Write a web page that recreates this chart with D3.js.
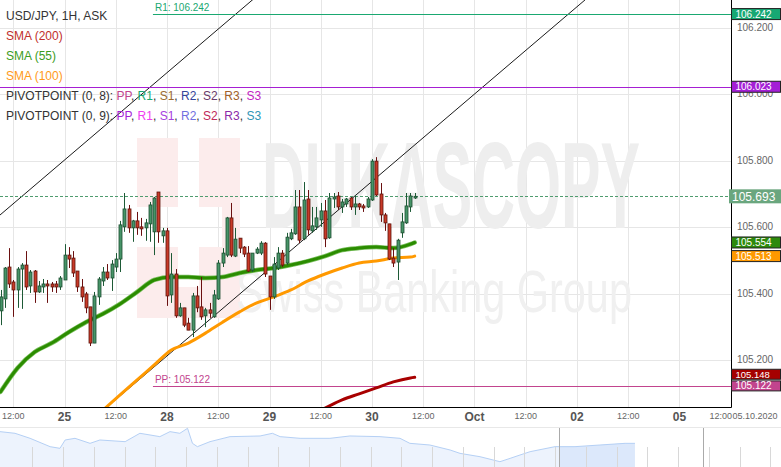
<!DOCTYPE html>
<html><head><meta charset="utf-8">
<script src="https://cdn.jsdelivr.net/npm/d3@7"></script>
<style>body{margin:0;background:#fff;} svg{display:block;font-family:"Liberation Sans",Arial,sans-serif;}</style>
</head><body><svg id="c" width="781" height="467"></svg>
<script>
// ---- DATA (USD/JPY 1H, hourly slots, weekend skipped; slot 0 = 24 Sep 09:00) ----
const candleOpen = [105.348,105.384,105.480,105.435,105.411,105.474,105.486,105.423,105.468,105.405,105.420,105.429,105.429,105.429,105.420,105.441,105.516,105.507,105.468,105.420,105.399,105.360,105.251,105.390,105.438,105.465,105.447,105.480,105.504,105.601,105.655,105.598,105.619,105.601,105.598,105.610,105.586,105.706,105.574,105.589,105.396,105.459,105.333,105.357,105.311,105.290,105.393,105.360,105.333,105.351,105.330,105.384,105.492,105.516,105.628,105.513,105.567,105.540,105.522,105.471,105.522,105.522,105.552,105.453,105.390,105.477,105.522,105.492,105.565,105.580,105.661,105.565,105.685,105.589,105.601,105.622,105.649,105.568,105.685,105.694,105.661,105.670,105.688,105.661,105.670,105.664,105.661,105.682,105.799,105.700,105.637,105.610,105.507,105.495,105.583,105.613,105.661,105.688];
const candleHigh = [105.411,105.480,105.537,105.441,105.480,105.492,105.528,105.471,105.471,105.438,105.444,105.441,105.435,105.438,105.453,105.549,105.540,105.528,105.468,105.444,105.405,105.360,105.405,105.450,105.480,105.489,105.501,105.522,105.619,105.703,105.667,105.622,105.646,105.628,105.625,105.676,105.691,105.706,105.598,105.598,105.522,105.474,105.372,105.357,105.327,105.402,105.423,105.450,105.357,105.372,105.411,105.501,105.537,105.631,105.673,105.598,105.567,105.543,105.543,105.522,105.540,105.558,105.555,105.453,105.510,105.540,105.531,105.583,105.595,105.712,105.712,105.736,105.712,105.661,105.661,105.673,105.682,105.703,105.703,105.706,105.685,105.688,105.691,105.697,105.673,105.670,105.691,105.805,105.811,105.733,105.643,105.610,105.537,105.565,105.643,105.703,105.703,105.703];
const candleLow = [105.305,105.357,105.417,105.330,105.357,105.354,105.411,105.402,105.372,105.402,105.402,105.372,105.405,105.402,105.411,105.441,105.477,105.450,105.405,105.375,105.341,105.242,105.251,105.366,105.423,105.441,105.408,105.465,105.465,105.586,105.583,105.556,105.577,105.574,105.559,105.556,105.516,105.553,105.553,105.363,105.372,105.327,105.330,105.299,105.290,105.269,105.344,105.321,105.299,105.327,105.327,105.381,105.480,105.510,105.510,105.510,105.522,105.510,105.465,105.465,105.519,105.516,105.450,105.351,105.384,105.471,105.480,105.486,105.561,105.577,105.552,105.561,105.577,105.583,105.592,105.601,105.540,105.565,105.658,105.652,105.643,105.661,105.652,105.637,105.652,105.646,105.658,105.679,105.694,105.616,105.589,105.501,105.480,105.441,105.568,105.610,105.646,105.685];
const candleClose = [105.390,105.477,105.429,105.411,105.474,105.486,105.420,105.465,105.405,105.423,105.429,105.423,105.420,105.420,105.447,105.516,105.504,105.462,105.420,105.390,105.357,105.251,105.393,105.444,105.465,105.447,105.489,105.504,105.607,105.655,105.598,105.619,105.598,105.595,105.613,105.667,105.688,105.586,105.589,105.393,105.459,105.333,105.357,105.305,105.290,105.393,105.357,105.330,105.351,105.341,105.396,105.492,105.522,105.628,105.516,105.564,105.537,105.519,105.468,105.522,105.534,105.552,105.459,105.390,105.489,105.522,105.486,105.570,105.583,105.661,105.561,105.682,105.592,105.604,105.628,105.649,105.565,105.688,105.691,105.661,105.676,105.685,105.661,105.670,105.661,105.658,105.685,105.799,105.697,105.637,105.613,105.504,105.492,105.561,105.616,105.664,105.694,105.693];

// moving averages, sampled at candle slots
const sma55Slots  = [0,4,8,12,16,20,24,28,32,36,40,44,48,52,56,60,64,68,72,76,80,84,88,92,96,97];
const sma55Vals   = [105.104,105.176,105.224,105.251,105.284,105.314,105.339,105.369,105.405,105.441,105.450,105.450,105.447,105.450,105.462,105.471,105.477,105.486,105.498,105.513,105.531,105.537,105.540,105.537,105.549,105.554];
const sma100Slots = [24,28,32,36,40,44,48,52,56,60,64,68,72,76,80,84,88,92,96,97];
const sma100Vals  = [105.049,105.095,105.140,105.185,105.230,105.251,105.281,105.314,105.345,105.372,105.390,105.411,105.438,105.459,105.477,105.492,105.498,105.507,105.510,105.513];
const sma200Slots = [76,80,84,88,92,96,97];
const sma200Vals  = [105.055,105.080,105.098,105.116,105.134,105.146,105.148];

// trend lines (two anchor points each: slot, price)
const trendA = [[0,105.638],[50,106.186]];
const trendB = [[25,105.059],[90,105.771]];

// pivot levels
const lastPrice = 105.693;
const pivotR1 = 106.242, pivotPP = 105.122, pivot2 = 106.023;
const pivotStartSlot = 35.7;

// axes
const yTicks = [105.2,105.4,105.6,105.8,106.0,106.2];
const xTickSlots  = [3,15,27,39,51,63,75,87,99,111,123,135,147,159,171];
const xTickLabels = ["12:00","25","12:00","28","12:00","29","12:00","30","12:00","Oct","12:00","02","12:00","05","12:00"];
const xTickMajor  = [false,true,false,true,false,true,false,true,false,true,false,true,false,true,false];
const currentDate = "05.10.2020";

// navigator overview series
const navT = [-0.05,0.44,0.93,1.58,1.90,2.07,2.39,2.88,3.20,4.02,4.50,4.83,5.15,5.48,5.80,6.05,6.21,6.37,6.78,7.43,8.41,8.81,9.06,9.71,10.68,11.33,12.31,12.96,13.28,13.93,14.59,14.91,15.56,16.21,16.54,16.86,17.19,18.00,18.65,19.46,20.28,20.60];
const navV = [106.40,106.35,106.20,105.95,105.90,106.15,106.20,106.05,106.15,106.10,106.35,106.30,106.25,106.40,106.35,106.50,106.05,105.95,106.10,106.25,106.27,106.35,106.25,106.20,106.20,106.27,106.25,106.20,106.05,106.00,105.85,105.75,105.65,105.50,105.60,105.70,105.80,105.95,105.95,106.00,106.05,106.05];
const navWindow = [18.13, 22.81];
const navSelStart = 18.13;

// ---- DRAW ----
const svg = d3.select("#c");
const W = 781, plotR = 731, plotB = 407;
const x = d3.scaleLinear().domain([0,171]).range([0.5,730.7]);
const y = d3.scaleLinear().domain([105.2,106.2]).range([360,28]);

svg.append("defs").append("clipPath").attr("id","clip")
  .append("rect").attr("x",0).attr("y",0).attr("width",plotR).attr("height",plotB);

// gridlines
const grid = svg.append("g");
grid.selectAll("line.h").data(yTicks).join("line")
  .attr("x1",0).attr("x2",plotR).attr("y1",d=>Math.round(y(d))+0.5).attr("y2",d=>Math.round(y(d))+0.5)
  .attr("stroke","#e6e6e6");
grid.selectAll("line.v").data(xTickSlots).join("line")
  .attr("x1",d=>Math.round(x(d))+0.5).attr("x2",d=>Math.round(x(d))+0.5).attr("y1",0).attr("y2",plotB)
  .attr("stroke","#e6e6e6");

// watermark
const wm = svg.append("g");
wm.append("path").attr("fill","#fcecec")
  .attr("d","M137,138H178V207H137Z M199,138H240V207H199Z M137,247H178V318H137Z M178,287H199V318H178Z M199,247H240V318H199Z M222,207H240V247H222Z");
function squeezed(txt, x0, yb, fs, weight, fill, target){
  const g = wm.append("g");
  const t = g.append("text").attr("x",0).attr("y",0).attr("font-size",fs).attr("font-weight",weight)
    .attr("fill",fill).text(txt);
  const w = t.node().getComputedTextLength();
  g.attr("transform",`translate(${x0},${yb}) scale(${target/w},1)`);
}
squeezed("DUKASCOPY",262,228,122,"bold","#eeeeee",378);
squeezed("Swiss Banking Group",236,312,60,"normal","#f0f0f0",396);

const plot = svg.append("g").attr("clip-path","url(#clip)");

// trend lines extended across the plot
function extLine(p){
  const s=(p[1][1]-p[0][1])/(p[1][0]-p[0][0]);
  const s0=-5, s1=175;
  return [[s0,p[0][1]+s*(s0-p[0][0])],[s1,p[0][1]+s*(s1-p[0][0])]];
}
[trendA,trendB].forEach(t=>{
  const e=extLine(t);
  plot.append("line").attr("x1",x(e[0][0])).attr("y1",y(e[0][1])).attr("x2",x(e[1][0])).attr("y2",y(e[1][1]))
    .attr("stroke","#1a1a1a").attr("stroke-width",1);
});

// horizontal levels
plot.append("line").attr("x1",0).attr("x2",plotR).attr("y1",Math.round(y(pivot2))+0.5).attr("y2",Math.round(y(pivot2))+0.5)
  .attr("stroke","#a61fd3").attr("stroke-width",1);
plot.append("line").attr("x1",x(pivotStartSlot)).attr("x2",plotR).attr("y1",Math.round(y(pivotR1))+0.5).attr("y2",Math.round(y(pivotR1))+0.5)
  .attr("stroke","#1aa871").attr("stroke-width",1);
plot.append("line").attr("x1",x(pivotStartSlot)).attr("x2",plotR).attr("y1",Math.round(y(pivotPP))+0.5).attr("y2",Math.round(y(pivotPP))+0.5)
  .attr("stroke","#c2448e").attr("stroke-width",1);
plot.append("line").attr("x1",0).attr("x2",plotR).attr("y1",Math.round(y(lastPrice))+0.5).attr("y2",Math.round(y(lastPrice))+0.5)
  .attr("stroke","#4f9c6e").attr("stroke-dasharray","3,2");
plot.append("text").attr("x",x(pivotStartSlot)+2).attr("y",y(pivotR1)-3).attr("font-size",10).attr("fill","#1aa871").text("R1: "+pivotR1.toFixed(3));
plot.append("text").attr("x",x(pivotStartSlot)+2).attr("y",y(pivotPP)-3).attr("font-size",10).attr("fill","#c2448e").text("PP: "+pivotPP.toFixed(3));

// SMAs
const lineGen = d3.line().x(d=>x(d[0])).y(d=>y(d[1])).curve(d3.curveMonotoneX);
function smaLine(slots, vals, color, w, halo){
  const pts = slots.map((s,i)=>[s,vals[i]]);
  if(halo) plot.append("path").attr("d",lineGen(pts)).attr("fill","none").attr("stroke",halo).attr("stroke-width",w+1.5).attr("stroke-linecap","round");
  plot.append("path").attr("d",lineGen(pts)).attr("fill","none").attr("stroke",color).attr("stroke-width",w).attr("stroke-linecap","round");
}
smaLine(sma200Slots,sma200Vals,"#a80000",3,null);
smaLine(sma100Slots,sma100Vals,"#ff9900",3,null);
smaLine(sma55Slots,sma55Vals,"#2b8c00",3,"#7cc060");

// candles
const idx = d3.range(candleOpen.length);
const cg = plot.append("g");
idx.forEach(i=>{
  const o=candleOpen[i],h=candleHigh[i],l=candleLow[i],c=candleClose[i];
  const up = c>=o;
  const cx = Math.round(x(i))+0.5;
  cg.append("line").attr("x1",cx).attr("x2",cx).attr("y1",y(h)).attr("y2",y(l))
    .attr("stroke", up?"#1d5a36":"#6a1010").attr("stroke-width",1);
  const top=y(Math.max(o,c)), bot=y(Math.min(o,c));
  cg.append("rect").attr("x",cx-1.5).attr("y",top).attr("width",3).attr("height",Math.max(1,bot-top))
    .attr("fill", up?"#479468":"#c83a28").attr("stroke", up?"#1d4d30":"#5c140c").attr("stroke-width",0.8);
});

// plot frame (right and bottom)
svg.append("line").attr("x1",plotR+0.5).attr("x2",plotR+0.5).attr("y1",0).attr("y2",plotB+0.5).attr("stroke","#000");
svg.append("line").attr("x1",0).attr("x2",plotR+0.5).attr("y1",plotB+0.5).attr("y2",plotB+0.5).attr("stroke","#000");

// right axis labels
svg.selectAll("text.yl").data(yTicks).join("text").attr("class","yl")
  .attr("x",737).attr("y",d=>y(d)+3).attr("font-size",10).attr("fill","#666").text(d=>d.toFixed(3));

// value tags (centre may be nudged to avoid collisions, like the original)
function tag(v,bg,fs,h,x0,nudge){
  const yy=y(v)+(nudge||0);
  svg.append("rect").attr("x",x0).attr("y",yy-h/2).attr("width",W-x0-0.5).attr("height",h)
    .attr("fill",bg).attr("stroke","#222").attr("stroke-width",1);
  svg.append("text").attr("x",x0+4).attr("y",yy+fs*0.36).attr("font-size",fs).attr("fill","#fff").text(v.toFixed(3));
}
tag(pivotR1,"#17a873",10,11,731.5);
tag(pivot2,"#a41fd6",10,11,731.5);
tag(sma55Vals[sma55Vals.length-1],"#2d8a0c",10,11,731.5);
tag(sma100Vals[sma100Vals.length-1],"#ff9900",10,11,731.5);
tag(sma200Vals[sma200Vals.length-1],"#a50000",9.5,10,731.5,-3);
tag(pivotPP,"#c2448e",10,10,731.5);
// last price tag (no border)
svg.append("rect").attr("x",729).attr("y",y(lastPrice)-7).attr("width",52).attr("height",14).attr("fill","#6aa67e");
svg.append("text").attr("x",732).attr("y",y(lastPrice)+4.5).attr("font-size",12).attr("fill","#fff").text(lastPrice.toFixed(3));

// x axis labels
xTickSlots.forEach((s,i)=>{
  const last = i===xTickSlots.length-1;
  svg.append("text").attr("x", last?732:x(s)).attr("y", xTickMajor[i]?421:419)
    .attr("text-anchor", last?"end":"middle")
    .attr("font-size", xTickMajor[i]?12:9).attr("font-weight", xTickMajor[i]?"bold":"normal")
    .attr("fill", xTickMajor[i]?"#555":"#666")
    .text(xTickLabels[i]);
});
svg.append("text").attr("x",732.5).attr("y",419).attr("font-size",9).attr("fill","#666").text(currentDate);

// legend
const lg = svg.append("g").attr("font-size",12);
lg.append("text").attr("x",6).attr("y",20).attr("fill","#333").text("USD/JPY, 1H, ASK");
lg.append("text").attr("x",6).attr("y",40).attr("fill","#c0302b").text("SMA (200)");
lg.append("text").attr("x",6).attr("y",60).attr("fill","#3c9c22").text("SMA (55)");
lg.append("text").attr("x",6).attr("y",80).attr("fill","#ff9a1a").text("SMA (100)");
function pivLegend(yy,label,cols){
  const t=lg.append("text").attr("x",6).attr("y",yy).attr("fill","#333");
  t.append("tspan").text(label+": ");
  const names=["PP","R1","S1","R2","S2","R3","S3"];
  names.forEach((n,i)=>{
    t.append("tspan").attr("fill",cols[i]).text(n);
    if(i<names.length-1) t.append("tspan").attr("fill","#333").text(", ");
  });
}
pivLegend(100,"PIVOTPOINT (0, 8)",["#c2448e","#17a873","#9a6a30","#33449a","#6a3a6a","#a0602a","#c21fc2"]);
pivLegend(120,"PIVOTPOINT (0, 9)",["#a41fd6","#f03cf0","#a640e0","#7070e0","#c02a5a","#8a2aa8","#2f95b5"]);

// navigator
const nx = d3.scaleLinear().domain([0,1]).range([1.5,32.25]);
const ny = d3.scaleLinear().domain([105.5,106.5]).range([461.7,428.3]);
svg.append("line").attr("x1",0).attr("x2",W).attr("y1",427.5).attr("y2",427.5).attr("stroke","#e8e8e8");
const navPts = navT.map((t,i)=>[t,navV[i]]);
const area = d3.area().x(d=>nx(d[0])).y0(467).y1(d=>ny(d[1]));
svg.append("path").attr("d",area(navPts)).attr("fill","#edf3fd");
const selPts = navPts.filter(d=>d[0]>=navSelStart);
selPts.unshift([navSelStart, navV[37]]);
svg.append("path").attr("d",area(selPts)).attr("fill","#dce8fb");
svg.append("path").attr("d",d3.line().x(d=>nx(d[0])).y(d=>ny(d[1]))(navPts)).attr("fill","none").attr("stroke","#b5d0f5").attr("stroke-width",1);
svg.selectAll("line.nt").data(d3.range(1,26)).join("line")
  .attr("x1",d=>Math.round(nx(d))+0.5).attr("x2",d=>Math.round(nx(d))+0.5).attr("y1",447).attr("y2",467)
  .attr("stroke","#d8d8d8");
navWindow.forEach(t=>{
  svg.append("line").attr("x1",Math.round(nx(t))+0.5).attr("x2",Math.round(nx(t))+0.5).attr("y1",428).attr("y2",467)
    .attr("stroke","#aaaaaa");
});
</script></body></html>
